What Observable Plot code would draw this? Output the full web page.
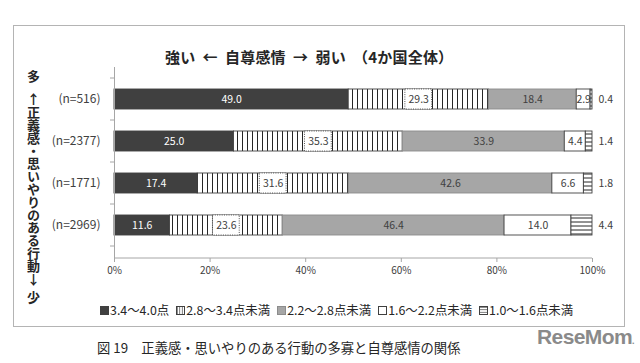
<!DOCTYPE html>
<html><head><meta charset="utf-8">
<script src="https://cdn.jsdelivr.net/npm/d3@7"></script>
<script src="https://cdn.jsdelivr.net/npm/@observablehq/plot@0.6"></script>
<style>
body{margin:0;background:#fff;font-family:'Noto Sans CJK JP',sans-serif;color:#262626}
#wrap{position:relative;width:640px;height:363px;overflow:hidden}
.abs{position:absolute;white-space:nowrap}
#frame{left:13px;top:25px;width:612px;height:302px;border:1px solid #b4b4b4;box-sizing:border-box}
.vert{writing-mode:vertical-rl;text-orientation:upright;font-weight:bold;font-size:13px;line-height:1;color:#262626}
#legend{left:100px;top:301px;font-size:12.4px;display:flex;align-items:center;gap:7px;color:#262626}
#legend span{display:inline-flex;align-items:center}
#legend svg{margin-right:1px}
</style></head>
<body>
<svg width="0" height="0" style="position:absolute">
<defs>
<pattern id="vs" width="5" height="5" patternUnits="userSpaceOnUse">
<rect width="5" height="5" fill="#fff"/><line x1="2.5" y1="0" x2="2.5" y2="5" stroke="#262626" stroke-width="1"/>
</pattern>
<pattern id="hs" width="4" height="4" patternUnits="userSpaceOnUse">
<rect width="4" height="4" fill="#fff"/><line x1="0" y1="2" x2="4" y2="2" stroke="#262626" stroke-width="1"/>
</pattern>
<pattern id="vsl" width="2.5" height="2.5" patternUnits="userSpaceOnUse">
<rect width="2.5" height="2.5" fill="#fff"/><line x1="1.25" y1="0" x2="1.25" y2="2.5" stroke="#404040" stroke-width="0.7"/>
</pattern>
<pattern id="hsl" width="2.5" height="2.5" patternUnits="userSpaceOnUse">
<rect width="2.5" height="2.5" fill="#fff"/><line x1="0" y1="1.25" x2="2.5" y2="1.25" stroke="#404040" stroke-width="0.7"/>
</pattern>
</defs>
</svg>
<div id="wrap">
<div id="frame" class="abs"></div>
<div id="title" class="abs" style="left:165px;top:46px;font-size:15px;font-weight:bold;letter-spacing:0.2px">強い&nbsp;&nbsp;←&nbsp;&nbsp;自尊感情&nbsp;&nbsp;→&nbsp;&nbsp;弱い&nbsp;&nbsp;（4か国全体）</div>
<div class="abs vert" style="left:27px;top:70px">多</div>
<div class="abs vert" style="left:27px;top:93px;letter-spacing:-0.2px">↑正義感・思いやりのある行動↓</div>
<div class="abs vert" style="left:27px;top:291px">少</div>
<div id="chart" class="abs" style="left:0;top:0"></div>
<div id="legend" class="abs"></div>
<div class="abs" style="left:97px;top:338px;font-size:13.3px;color:#262626">図 19　正義感・思いやりのある行動の多寡と自尊感情の関係</div>
<div class="abs" style="left:537px;top:325px;font-family:'Liberation Sans',Arial,sans-serif;font-weight:bold;font-size:21px;color:#8a8a8a;letter-spacing:-0.6px">ReseMom<span style="font-size:9px">.</span></div>
</div>
<script>
const categories = ["(n=516)", "(n=2377)", "(n=1771)", "(n=2969)"];
const seriesNames = ["3.4～4.0点", "2.8～3.4点未満", "2.2～2.8点未満", "1.6～2.2点未満", "1.0～1.6点未満"];
const s1 = [49.0, 25.0, 17.4, 11.6];
const s2 = [29.3, 35.3, 31.6, 23.6];
const s3 = [18.4, 33.9, 42.6, 46.4];
const s4 = [2.9, 4.4, 6.6, 14.0];
const s5 = [0.4, 1.4, 1.8, 4.4];
const xTicks = [0, 20, 40, 60, 80, 100];

const seriesValues = [s1, s2, s3, s4, s5];
const fills = ["#404040", "url(#vs)", "#a6a6a6", "#ffffff", "url(#hs)"];
const legendFills = ["#404040", "url(#vsl)", "#a6a6a6", "#ffffff", "url(#hsl)"];
const textFills = ["#ffffff", "#404040", "#404040", "#404040", "#404040"];

const rows = [];
categories.forEach((cat, ci) => {
  let acc = 0;
  seriesValues.forEach((vals, si) => {
    const v = vals[ci];
    rows.push({cat, si, value: v, x1: acc, x2: acc + v, mid: acc + v / 2});
    acc += v;
  });
});

const W = 640, H = 290, mL = 114, mR = 48, mT = 67, mB = 32;
const marks = [];
seriesValues.forEach((_, si) => {
  marks.push(Plot.barX(rows.filter(d => d.si === si), {
    x1: "x1", x2: "x2", y: "cat", fill: fills[si],
    stroke: si === 2 ? "#8c8c8c" : "#404040", strokeWidth: 0.9
  }));
});
// dotted label boxes on the striped series
marks.push(Plot.barX(rows.filter(d => d.si === 1), {
  x1: d => d.mid - 2.8, x2: d => d.mid + 2.8, y: "cat", fill: "#fff",
  stroke: "#404040", strokeWidth: 0.9, strokeDasharray: "1,1.3"
}));
// inside labels
marks.push(Plot.text(rows.filter(d => d.si < 4), {
  x: "mid", y: "cat", text: d => d.value.toFixed(1),
  fill: d => textFills[d.si], fontSize: 10.5
}));
// outside labels (last series)
marks.push(Plot.text(rows.filter(d => d.si === 4), {
  x: () => 100, y: "cat", text: d => d.value.toFixed(1),
  fill: "#404040", fontSize: 10.5, textAnchor: "start", dx: 6
}));
marks.push(Plot.ruleX([0], {stroke: "#a6a6a6"}));
marks.push(Plot.axisX(xTicks, {tickFormat: d => d + "%", tickSize: 4, tickPadding: 4, fontSize: 10, color: "#404040", stroke: "#a6a6a6", label: null}));
marks.push(Plot.axisY({tickSize: 0, tickPadding: 14, fontSize: 12, color: "#404040", label: null}));

const chart = Plot.plot({
  width: W, height: H, marginLeft: mL, marginRight: mR, marginTop: mT, marginBottom: mB,
  x: {domain: [0, 100], axis: null, label: null},
  y: {domain: categories, padding: 0.52, axis: null, label: null},
  style: {fontFamily: "'Noto Sans CJK JP', sans-serif", background: "transparent", overflow: "visible"},
  marks
});
document.getElementById("chart").appendChild(chart);

// axis line and band-boundary ticks drawn from the plot's scales
const sx = chart.scale("x"), sy = chart.scale("y");
const svg = d3.select(chart);
const x0 = sx.apply(0), x100 = sx.apply(100);
const yBottom = H - mB;
svg.append("line").attr("x1", x0).attr("x2", x100).attr("y1", yBottom).attr("y2", yBottom)
  .attr("stroke", "#a6a6a6");
const step = sy.step;
const first = sy.apply(categories[0]) - (step - sy.bandwidth) / 2;
for (let i = 0; i <= categories.length; i++) {
  const y = first + i * step;
  svg.append("line").attr("x1", x0 - 4).attr("x2", x0).attr("y1", y).attr("y2", y).attr("stroke", "#a6a6a6");
}

// legend
const legend = document.getElementById("legend");
seriesNames.forEach((name, i) => {
  const sp = document.createElement("span");
  sp.innerHTML = `<svg width="9" height="9"><rect x="0.5" y="0.5" width="8" height="8" fill="${legendFills[i]}" stroke="${i === 2 ? '#8c8c8c' : '#404040'}" stroke-width="1"/></svg>${name}`;
  legend.appendChild(sp);
});
</script>
</body></html>
